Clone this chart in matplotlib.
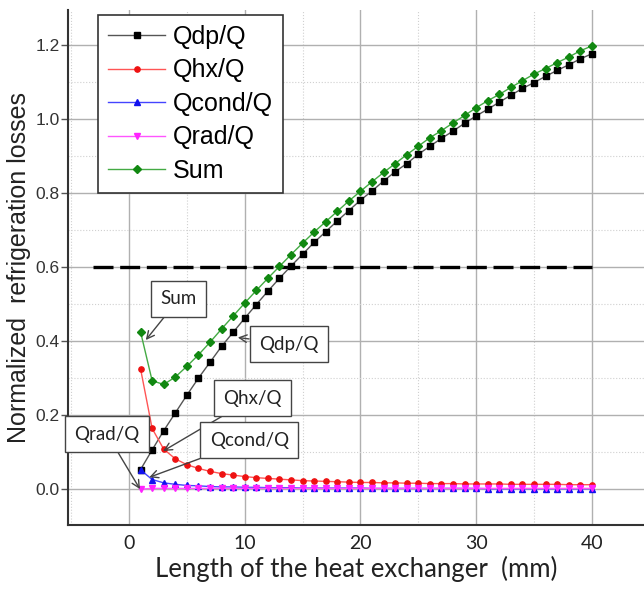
"""Normalized refrigeration losses vs heat-exchanger length."""

import matplotlib

matplotlib.use("Agg")
import matplotlib.pyplot as plt
from matplotlib.ticker import MultipleLocator

# Length of the heat exchanger (mm)
length_mm = list(range(1, 41))

q_dp = [0.053, 0.106, 0.158, 0.206, 0.254, 0.300, 0.343, 0.386, 0.424, 0.462,
        0.499, 0.535, 0.570, 0.603, 0.635, 0.667, 0.696, 0.725, 0.753, 0.781,
        0.806, 0.833, 0.858, 0.880, 0.905, 0.927, 0.948, 0.968, 0.989, 1.009,
        1.027, 1.046, 1.065, 1.083, 1.099, 1.116, 1.132, 1.147, 1.163, 1.177]

q_hx = [0.325, 0.164, 0.108, 0.082, 0.066, 0.056, 0.048, 0.042, 0.038, 0.034,
        0.031, 0.029, 0.027, 0.025, 0.023, 0.022, 0.021, 0.020, 0.019, 0.018,
        0.018, 0.017, 0.017, 0.016, 0.016, 0.015, 0.015, 0.015, 0.014, 0.014,
        0.014, 0.014, 0.013, 0.013, 0.013, 0.013, 0.013, 0.012, 0.012, 0.012]

q_cond = [0.052, 0.026, 0.017, 0.013, 0.010, 0.009, 0.007, 0.006, 0.006, 0.005,
          0.005, 0.004, 0.004, 0.004, 0.003, 0.003, 0.003, 0.003, 0.003, 0.003,
          0.002, 0.002, 0.002, 0.002, 0.002, 0.002, 0.002, 0.002, 0.002, 0.002,
          0.001, 0.001, 0.001, 0.001, 0.001, 0.001, 0.001, 0.001, 0.001, 0.001]

q_rad = [0.000] + [0.002] * 39

q_sum = [0.425, 0.293, 0.283, 0.303, 0.332, 0.363, 0.397, 0.433, 0.468, 0.503,
         0.537, 0.570, 0.602, 0.634, 0.665, 0.695, 0.723, 0.751, 0.779, 0.805,
         0.831, 0.856, 0.880, 0.904, 0.927, 0.950, 0.969, 0.990, 1.010, 1.031,
         1.050, 1.067, 1.086, 1.104, 1.122, 1.137, 1.153, 1.168, 1.185, 1.198]

limit_level = 0.6
limit_span = (-3.1, 40)

x_ticks = [0, 10, 20, 30, 40]
y_ticks = [0.0, 0.2, 0.4, 0.6, 0.8, 1.0, 1.2]

series = [
    ("Qdp/Q", q_dp, "#555555", "black", "s"),
    ("Qhx/Q", q_hx, "#ff5555", "#ee1111", "o"),
    ("Qcond/Q", q_cond, "#4444ff", "#1111ee", "^"),
    ("Qrad/Q", q_rad, "#ff55ff", "#ff22ff", "v"),
    ("Sum", q_sum, "#44aa44", "#118811", "D"),
]

# (label, text position, arrow target) in data units
callouts = [
    ("Sum", (4.3, 0.514), (1.45, 0.403)),
    ("Qdp/Q", (13.8, 0.392), (9.4, 0.41)),
    ("Qhx/Q", (10.7, 0.246), (2.95, 0.103)),
    ("Qcond/Q", (10.4, 0.132), (1.75, 0.032)),
    ("Qrad/Q", (-1.9, 0.149), (0.95, 0.0)),
]


def main() -> None:
    fig = plt.figure(figsize=(6.44, 5.95), dpi=100)
    ax = fig.add_axes([0.1056, 0.1176, 0.8944, 0.8655])

    for label, values, line_color, marker_color, marker in series:
        ms = 3.6 if marker == "D" else 3.8
        ax.plot(length_mm, values, color=line_color, linewidth=1.0,
                marker=marker, markersize=ms, markerfacecolor=marker_color,
                markeredgecolor=marker_color, label=label)

    ax.hlines(limit_level, *limit_span, colors="black", linewidth=2.4,
              linestyles=(0, (6, 2)), zorder=1)

    ax.set_xlim(-5.27, 44.5)
    ax.set_ylim(-0.097, 1.295)
    ax.set_xticks(x_ticks)
    ax.set_yticks(y_ticks)
    ax.set_yticklabels([f"{v:.1f}" for v in y_ticks])
    ax.xaxis.set_minor_locator(MultipleLocator(5))
    ax.yaxis.set_minor_locator(MultipleLocator(0.1))
    ax.grid(which="major", color="#b0b0b0", linewidth=1.0, zorder=0)
    ax.grid(which="minor", color="#d0d0d0", linewidth=0.8, linestyle=":")
    ax.set_axisbelow(True)

    for side in ("top", "right"):
        ax.spines[side].set_visible(False)
    for side in ("left", "bottom"):
        ax.spines[side].set_color("#333333")
        ax.spines[side].set_linewidth(1.5)

    ax.tick_params(axis="y", which="major", direction="out", length=5,
                   width=1.0, color="#555555", labelsize=12.5,
                   labelcolor="#333333", pad=1)
    ax.tick_params(axis="x", which="major", length=0, labelsize=14, pad=7,
                   labelcolor="#222222")
    ax.tick_params(which="minor", length=0)
    for lab in ax.get_yticklabels():
        lab.set_fontfamily("Liberation Sans")
    for lab in ax.get_xticklabels():
        lab.set_fontfamily("Lato")

    ax.set_ylabel("Normalized  refrigeration losses", fontsize=18,
                  family="Liberation Sans", color="#222222", labelpad=3)
    ax.set_xlabel("Length of the heat exchanger  (mm)", fontsize=18.5,
                  family="Lato", color="#222222", labelpad=3)

    legend = ax.legend(loc="upper left", bbox_to_anchor=(0.152, 0.975),
                       bbox_transform=fig.transFigure, borderaxespad=0,
                       fancybox=False, edgecolor="#333333", framealpha=1,
                       handlelength=2.3, handletextpad=0.3, labelspacing=0.38,
                       borderpad=0.4,
                       prop={"family": "Liberation Sans", "size": 18})
    legend.get_frame().set_linewidth(1.2)

    for text, text_pos, target in callouts:
        ax.annotate(text, xy=target, xytext=text_pos, fontsize=13.5,
                    family="Lato", color="#222222", ha="center", va="center",
                    bbox=dict(boxstyle="square,pad=0.5", facecolor="white",
                              edgecolor="#444444", linewidth=1.0),
                    arrowprops=dict(arrowstyle="->", color="#444444",
                                    linewidth=1.0, shrinkA=0, shrinkB=0),
                    zorder=5)

    fig.savefig("out.png", dpi=100)
    plt.close(fig)


if __name__ == "__main__":
    main()
